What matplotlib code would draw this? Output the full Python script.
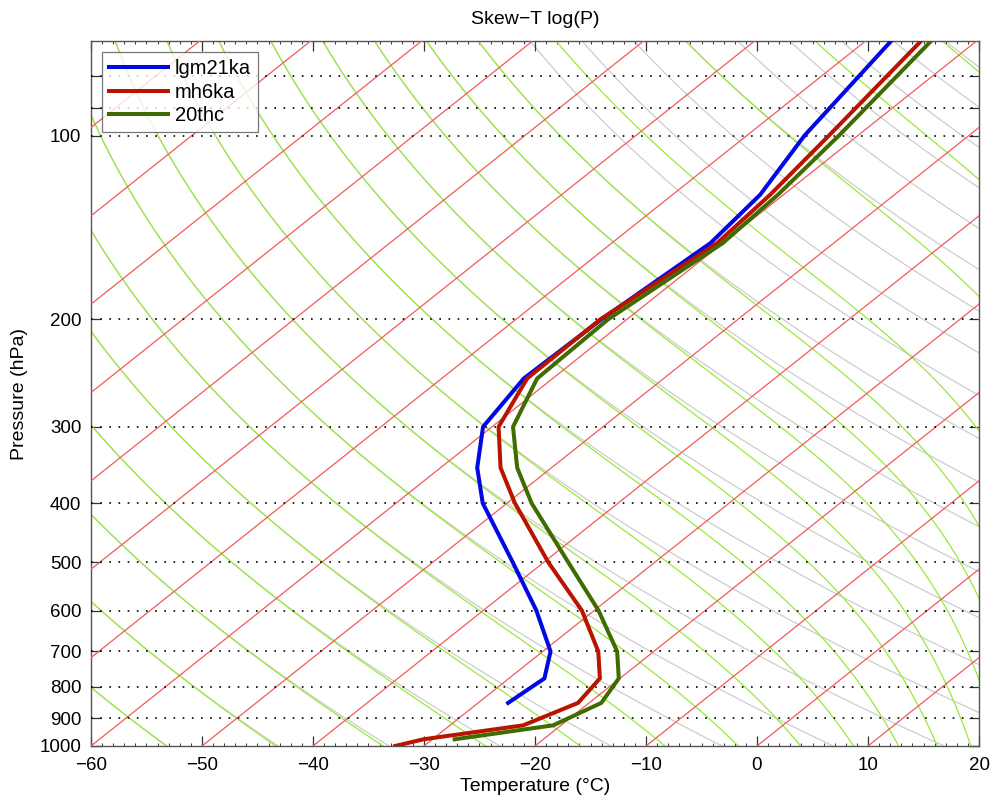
import numpy as np
import matplotlib
matplotlib.use('Agg')
import matplotlib.pyplot as plt
from matplotlib.ticker import FixedLocator, MultipleLocator, FixedFormatter

# ---------------- data (temperature in deg C at pressure levels in hPa) ----------------
p_lgm21ka = [850, 775, 700, 600, 500, 400, 350, 300, 250, 200, 150, 125, 100, 70]
t_lgm21ka = [-27.3, -26.8, -29.3, -35.2, -42.8, -52.2, -56.7, -60.8, -62.6, -62.3,
             -61.1, -62.1, -64.8, -67.7]
p_mh6ka = [1000, 975, 925, 850, 775, 700, 600, 500, 400, 350, 300, 250, 200, 150, 125, 100, 70]
t_mh6ka = [-32.6, -30.8, -23.4, -21.0, -21.8, -25.0, -31.1, -39.6, -49.3, -54.6, -59.4,
           -62.3, -62.4, -60.5, -61.2, -62.6, -65.0]
p_20thc = [975, 925, 850, 775, 700, 600, 500, 400, 350, 300, 250, 200, 150, 125, 100, 70]
t_20thc = [-28.0, -20.7, -18.9, -20.1, -23.3, -29.6, -37.8, -47.8, -53.1, -58.1, -61.4,
           -61.7, -60.0, -60.5, -61.7, -64.1]

series_names = ['lgm21ka', 'mh6ka', '20thc']
series_colors = ['#0008e6', '#b81400', '#3f6b00']

isotherm_levels = np.arange(-150, 30, 10)                     # deg C
theta_levels = np.arange(200, 510, 10)                        # K, dry adiabats
theta_e_levels = list(range(200, 370, 10)) + [375, 400, 425, 450, 475, 500]  # K, moist
grid_pressures = [80, 90, 100, 200, 300, 400, 500, 600, 700, 800, 900]
ytick_values = [80, 90, 100, 200, 300, 400, 500, 600, 700, 800, 900, 1000]
ytick_labels = ['', '', '100', '200', '300', '400', '500', '600', '700', '800', '900', '1000']

P0 = 1000.0
SKEW = 30.0


def skew_x(t, p):
    return np.asarray(t) + SKEW * np.log(P0 / np.asarray(p))


plt.rcParams['font.family'] = ['Liberation Sans', 'DejaVu Sans']
fig = plt.figure(figsize=(10, 8.05), dpi=100)
ax = fig.add_axes([0.091, 0.0733, 0.888, 0.8757])

pp = np.logspace(np.log10(1060), np.log10(60), 400)

# dry adiabats (gray)
for th in theta_levels:
    tk = th * (pp / P0) ** 0.286
    ax.plot(skew_x(tk - 273.15, pp), pp, color='#cdcdcd', lw=0.9, zorder=1)

# lines of constant equivalent potential temperature (green)
tgrid = np.linspace(-170, 70, 2401)
tgk = tgrid + 273.15
for the in theta_e_levels:
    tline = []
    for p in pp:
        es = 6.112 * np.exp(17.67 * tgrid / (tgrid + 243.5))
        rs = 0.622 * es / np.maximum(p - es, 1e-3)
        rs = np.where(es < p * 0.9, rs, np.nan)
        thetae = tgk * (P0 / p) ** 0.286 * np.exp(2.5e6 * rs / (1005.0 * tgk))
        ok = np.isfinite(thetae)
        tline.append(np.interp(the, thetae[ok], tgrid[ok], left=np.nan, right=np.nan))
    tline = np.array(tline)
    ax.plot(skew_x(tline, pp), pp, color='#9ae83c', lw=0.9, zorder=2)

# isotherms (red)
for t in isotherm_levels:
    ax.plot(skew_x(np.full_like(pp, t), pp), pp, color='#f25a5a', lw=0.9, zorder=3)

# dotted pressure grid
for gp in grid_pressures:
    ax.axhline(gp, color='black', lw=1.2, ls=(0, (1, 4.5)), zorder=4)

# sounding curves
for pv, tv, name, col in zip([p_lgm21ka, p_mh6ka, p_20thc], [t_lgm21ka, t_mh6ka, t_20thc],
                             series_names, series_colors):
    ax.plot(skew_x(tv, pv), pv, color=col, lw=2.9, label=name, zorder=6)

ax.set_yscale('log')
ax.set_ylim(1000, 70)
ax.set_xlim(-60, 20)
ax.yaxis.set_major_locator(FixedLocator(ytick_values))
ax.yaxis.set_major_formatter(FixedFormatter(ytick_labels))
ax.yaxis.set_minor_locator(FixedLocator([]))
ax.xaxis.set_major_locator(MultipleLocator(10))
ax.xaxis.set_minor_locator(MultipleLocator(1))
ax.tick_params(which='both', direction='in', top=True, right=True, labelsize=13.5,
               color='#333333')
ax.tick_params(axis='x', which='major', pad=8)
ax.tick_params(axis='y', which='major', pad=7)
ax.tick_params(which='major', length=7, width=0.9)
ax.tick_params(which='minor', length=2.5, width=0.7)
for s in ax.spines.values():
    s.set_color('#555555')
    s.set_linewidth(1.0)

ax.set_xlabel('Temperature (°C)', fontsize=14, labelpad=3)
ax.set_ylabel('Pressure (hPa)', fontsize=14, labelpad=8)
ax.set_title('Skew\u2212T log(P)', fontsize=14, pad=12)

leg = ax.legend(loc='upper left', fontsize=14.5, frameon=True, fancybox=False,
                edgecolor='#555555', handlelength=2.9, handletextpad=0.35,
                borderaxespad=0.55, labelspacing=0.22, borderpad=0.35)
leg.get_frame().set_linewidth(0.9)
leg.set_zorder(10)

fig.savefig('out.png', dpi=100)
